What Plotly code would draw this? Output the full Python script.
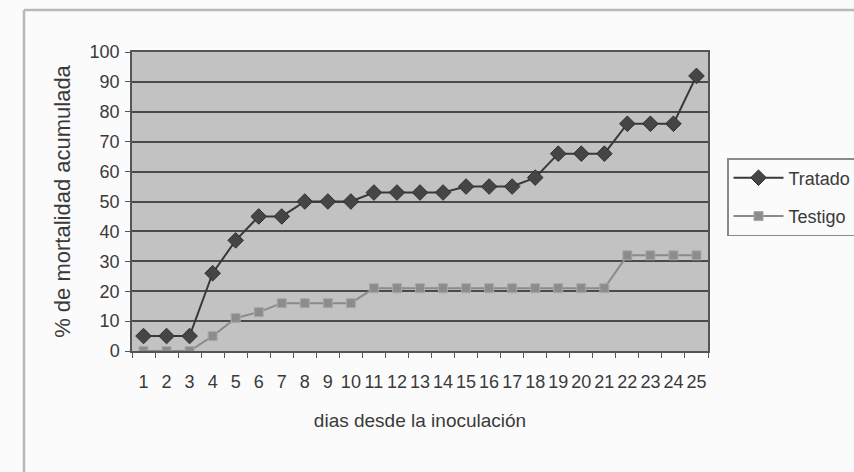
import plotly.graph_objects as go

# Cumulative mortality (%) per day after inoculation
dias = list(range(1, 26))
tratado = [5, 5, 5, 26, 37, 45, 45, 50, 50, 50, 53, 53, 53, 53, 55, 55, 55, 58,
           66, 66, 66, 76, 76, 76, 92]
testigo = [0, 0, 0, 5, 11, 13, 16, 16, 16, 16, 21, 21, 21, 21, 21, 21, 21, 21,
           21, 21, 21, 32, 32, 32, 32]
y_ticks = list(range(0, 101, 10))

W, H = 854, 472
ML, MR, MT, MB = 132, 146, 52, 121
PW, PH = W - ML - MR, H - MT - MB

FONT = "Liberation Sans, Arial, sans-serif"
TXT = "#3a3a3a"


def px_x(px):
    return (px - ML) / PW


def px_y(py):
    return (H - MB - py) / PH


fig = go.Figure()
fig.add_trace(go.Scatter(
    x=dias, y=tratado, name="Tratado", mode="lines+markers",
    legendgroup="a",
    line=dict(color="#383838", width=2),
    marker=dict(symbol="diamond", size=12, color="#454545",
                line=dict(color="#303030", width=1)),
))
fig.add_trace(go.Scatter(
    x=dias, y=testigo, name="Testigo", mode="lines+markers",
    legendgroup="b",
    line=dict(color="#8a8a8a", width=2),
    marker=dict(symbol="square", size=9, color="#8c8c8c",
                line=dict(color="#a8a8a8", width=1)),
))

# Outer chart frame (top and left edges)
frame = dict(type="line", xref="paper", yref="paper",
             line=dict(color="#b8b8b8", width=2.5), layer="below")
fig.add_shape(**frame, x0=px_x(24), x1=px_x(W + 5), y0=px_y(10), y1=px_y(10))
fig.add_shape(**frame, x0=px_x(24), x1=px_x(24), y0=px_y(10), y1=px_y(H + 5))

fig.update_layout(
    width=W, height=H, autosize=False,
    margin=dict(l=ML, r=MR, t=MT, b=MB, autoexpand=False),
    paper_bgcolor="#fbfbfb",
    plot_bgcolor="#c2c2c2",
    font=dict(family=FONT, color=TXT, size=18),
    legend=dict(
        xref="container", yref="container",
        x=727 / W, y=1 - 158 / H, xanchor="left", yanchor="top",
        bordercolor="#8a8a8a", borderwidth=1.5, bgcolor="rgba(0,0,0,0)",
        font=dict(size=18, color=TXT), itemwidth=50,
        traceorder="grouped", tracegroupgap=12,
    ),
    showlegend=True,
)
fig.update_xaxes(
    range=[0.5, 25.5], tickvals=dias, ticktext=[str(d) for d in dias],
    ticks="", showgrid=False, zeroline=False,
    showline=True, linecolor="#555555", linewidth=1.5, mirror=True,
    tickfont=dict(size=18), ticklabelstandoff=14,
    minor=dict(tick0=0.5, dtick=1, ticks="outside", ticklen=5,
               tickcolor="#555555", showgrid=False),
    title=dict(text="dias desde la inoculación", font=dict(size=19), standoff=22),
)
fig.update_yaxes(
    range=[0, 100], tickvals=y_ticks, ticks="outside", ticklen=5,
    tickcolor="#555555", showgrid=True, gridcolor="#4a4a4a", gridwidth=1.5,
    zeroline=False, showline=True, linecolor="#555555", linewidth=1.5,
    mirror=True, tickfont=dict(size=18), ticklabelstandoff=2,
    title=dict(text="% de mortalidad acumulada", font=dict(size=22), standoff=13),
)

fig.write_html("out.html")
